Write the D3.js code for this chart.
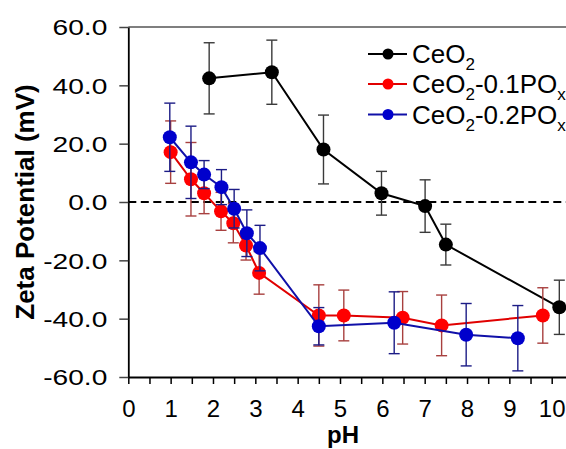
<!DOCTYPE html>
<html>
<head>
<meta charset="utf-8">
<script src="https://cdn.jsdelivr.net/npm/d3@7"></script>
<style>
  html, body { margin: 0; padding: 0; background: #fff; overflow: hidden; }
  svg { display: block; font-family: "Liberation Sans", Arial, sans-serif; }
</style>
</head>
<body>
<svg id="chart" width="566" height="449"></svg>
<script>
// ---- Data ----
const ceo2_pH   = [1.91, 3.39, 4.61, 5.98, 7.01, 7.50, 10.18];
const ceo2_zeta = [42.4, 44.5, 18.0, 3.0, -1.4, -14.6, -36.1];
const ceo2_err  = [12.2, 11.0, 11.8, 7.5, 9.0, 7.0, 9.3];

const p01_pH   = [1.00, 1.48, 1.79, 2.19, 2.48, 2.78, 3.09, 4.50, 5.09, 6.48, 7.40, 9.79];
const p01_zeta = [17.1, 7.8, 3.0, -3.2, -7.3, -14.9, -24.3, -38.9, -38.9, -39.7, -42.3, -38.9];
const p01_err  = [10.7, 12.6, 7.0, 6.5, 6.7, 5.0, 7.3, 10.5, 8.7, 9.0, 10.4, 9.5];

const p02_pH   = [0.98, 1.48, 1.79, 2.20, 2.50, 2.80, 3.11, 4.50, 6.28, 7.98, 9.20];
const p02_zeta = [22.2, 13.6, 9.4, 5.1, -2.3, -10.7, -15.8, -42.6, -41.4, -45.5, -46.7];
const p02_err  = [11.7, 12.4, 4.8, 6.0, 6.6, 8.0, 7.8, 6.4, 10.6, 10.7, 11.2];

const seriesNames = ["CeO2", "CeO2-0.1POx", "CeO2-0.2POx"];
const xTicks = [0, 1, 2, 3, 4, 5, 6, 7, 8, 9, 10];
const xMinorTicks = [0.5, 1.5, 2.5, 3.5, 4.5, 5.5, 6.5, 7.5, 8.5, 9.5, 10.5];
const yTicks = [-60, -40, -20, 0, 20, 40, 60];
const yTickLabels = ["-60.0", "-40.0", "-20.0", "0.0", "20.0", "40.0", "60.0"];

// ---- Setup ----
const svg = d3.select("#chart");
const xMax = 10.7;
const x = d3.scaleLinear().domain([0, xMax]).range([128.3, 128.3 + xMax * 42.34]);
const y = d3.scaleLinear().domain([-60, 60]).range([377, 27]);

// top frame
svg.append("line")
  .attr("x1", x(0)).attr("x2", x(xMax))
  .attr("y1", y(60)).attr("y2", y(60))
  .attr("stroke", "#555").attr("stroke-width", 1.6);

// zero dashed line
svg.append("line")
  .attr("x1", x(0)).attr("x2", x(xMax))
  .attr("y1", y(0)).attr("y2", y(0))
  .attr("stroke", "#000").attr("stroke-width", 2)
  .attr("stroke-dasharray", "8,4.5");

// x axis
const allX = xTicks.concat(xMinorTicks).sort((a, b) => a - b);
const xAxis = svg.append("g")
  .attr("transform", `translate(0,${y(-60)})`)
  .call(d3.axisBottom(x).tickValues(allX).tickSize(7).tickSizeOuter(0).tickPadding(15.5)
    .tickFormat(d => Number.isInteger(d) ? String(d) : ""));
xAxis.selectAll("text").attr("font-size", 24).attr("fill", "#000")
  .attr("font-family", "'Liberation Sans', Arial, sans-serif");
xAxis.selectAll("line").attr("stroke", "#000").attr("stroke-width", 1.5);
xAxis.select(".domain").attr("stroke", "#000").attr("stroke-width", 1.8);

// y axis
const yAxis = svg.append("g")
  .attr("transform", `translate(${x(0)},0)`)
  .call(d3.axisLeft(y).tickValues(yTicks).tickSize(9).tickSizeOuter(0)
    .tickFormat((d, i) => yTickLabels[yTicks.indexOf(d)]));
yAxis.selectAll("text")
  .attr("font-size", 22).attr("fill", "#000")
  .attr("font-family", "'Liberation Sans', Arial, sans-serif")
  .attr("x", 0).attr("dy", "0.36em")
  .attr("transform", "translate(-21,0) scale(1.28,1)");
yAxis.selectAll("line").attr("stroke", "#444").attr("stroke-width", 1.5);
yAxis.select(".domain").attr("stroke", "#000").attr("stroke-width", 1.8);

// axis titles
svg.append("text")
  .attr("x", 343).attr("y", 443)
  .attr("text-anchor", "middle")
  .attr("font-size", 24).attr("font-weight", "bold")
  .text("pH");
svg.append("text")
  .attr("transform", `translate(34,202) rotate(-90)`)
  .attr("text-anchor", "middle")
  .attr("font-size", 26).attr("font-weight", "bold")
  .text("Zeta Potential (mV)");

// ---- Series ----
const series = [
  { pH: ceo2_pH, z: ceo2_zeta, e: ceo2_err, line: "#000", fill: "#000", bar: "#3a3a3a" },
  { pH: p01_pH, z: p01_zeta, e: p01_err, line: "#e00000", fill: "#ff0000", bar: "#a8403f" },
  { pH: p02_pH, z: p02_zeta, e: p02_err, line: "#1010a8", fill: "#0000cc", bar: "#1c1c86" }
];

const lineGen = d3.line().x(d => x(d[0])).y(d => y(d[1]));

series.forEach(s => {
  const pts = s.pH.map((p, i) => [p, s.z[i], s.e[i]]);
  const g = svg.append("g");
  // error bars
  const eb = g.selectAll(".eb").data(pts).enter().append("g");
  eb.append("line")
    .attr("x1", d => x(d[0])).attr("x2", d => x(d[0]))
    .attr("y1", d => y(d[1] + d[2])).attr("y2", d => y(d[1] - d[2]))
    .attr("stroke", s.bar).attr("stroke-width", 1.4);
  [1, -1].forEach(sg => {
    eb.append("line")
      .attr("x1", d => x(d[0]) - 5.5).attr("x2", d => x(d[0]) + 5.5)
      .attr("y1", d => y(d[1] + sg * d[2])).attr("y2", d => y(d[1] + sg * d[2]))
      .attr("stroke", s.bar).attr("stroke-width", 1.4);
  });
  // line
  g.append("path").datum(pts)
    .attr("d", lineGen)
    .attr("fill", "none").attr("stroke", s.line).attr("stroke-width", 2);
  // markers
  g.selectAll("circle").data(pts).enter().append("circle")
    .attr("cx", d => x(d[0])).attr("cy", d => y(d[1]))
    .attr("r", 7).attr("fill", s.fill);
});

// ---- Legend ----
const legRows = [54, 84, 114.5];
const legend = svg.append("g");
series.forEach((s, i) => {
  const ly = legRows[i];
  legend.append("line")
    .attr("x1", 368).attr("x2", 407).attr("y1", ly).attr("y2", ly)
    .attr("stroke", s.line).attr("stroke-width", 2);
  legend.append("circle").attr("cx", 388).attr("cy", ly).attr("r", 5.5).attr("fill", s.fill);
  const t = legend.append("text").attr("x", 412).attr("y", ly + 9).attr("font-size", 26).attr("fill", "#000");
  const name = seriesNames[i];
  t.append("tspan").text("CeO");
  t.append("tspan").attr("font-size", 17).attr("dy", 7).text("2");
  if (name.length > 4) {
    const rest = name.slice(4, name.length - 1);
    t.append("tspan").attr("dy", -7).text(rest);
    t.append("tspan").attr("font-size", 17).attr("dy", 7).text("x");
  }
});
</script>
</body>
</html>
